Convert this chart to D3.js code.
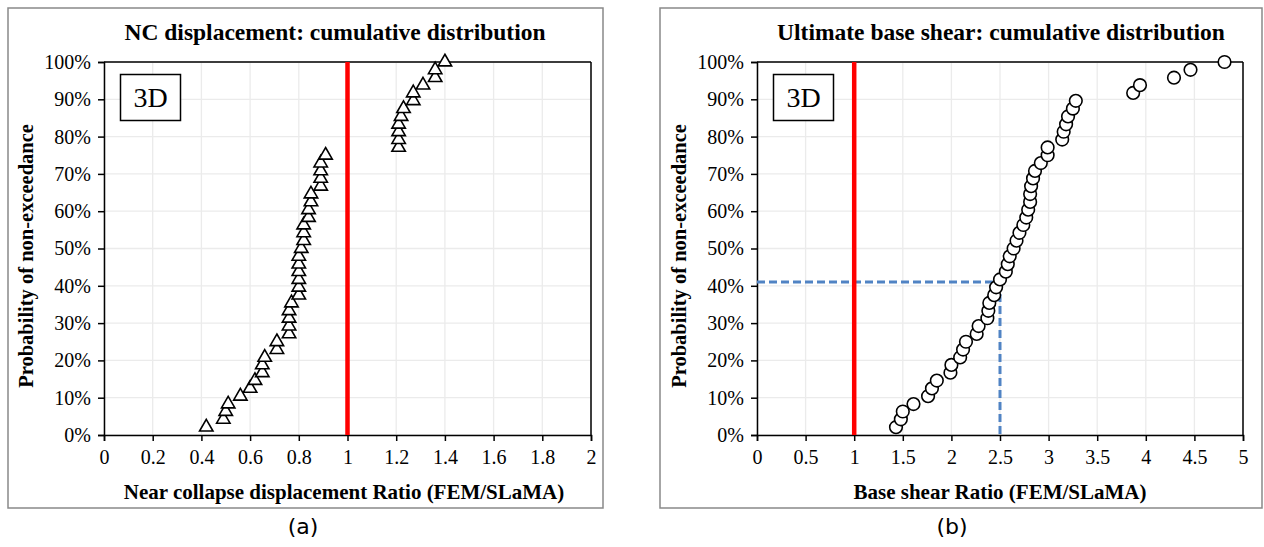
<!DOCTYPE html>
<html><head><meta charset="utf-8">
<script src="https://cdn.jsdelivr.net/npm/d3@7"></script>
<style>html,body{margin:0;padding:0;background:#fff;}svg{display:block;}</style>
</head><body>
<script>
// ---- data ----
const cumProb = [2.1,4.2,6.3,8.3,10.4,12.5,14.6,16.7,18.8,20.8,22.9,25.0,27.1,29.2,31.3,33.3,35.4,37.5,39.6,41.7,43.8,45.8,47.9,50.0,52.1,54.2,56.3,58.3,60.4,62.5,64.6,66.7,68.8,70.8,72.9,75.0,77.1,79.2,81.3,83.3,85.4,87.5,89.6,91.7,93.8,95.8,97.9,100.0];
const ncRatio = [0.42,0.49,0.50,0.51,0.56,0.60,0.62,0.65,0.65,0.66,0.71,0.71,0.76,0.76,0.76,0.76,0.77,0.80,0.80,0.80,0.80,0.80,0.80,0.81,0.82,0.82,0.82,0.84,0.84,0.85,0.85,0.89,0.89,0.89,0.89,0.91,1.21,1.21,1.21,1.21,1.22,1.23,1.27,1.27,1.31,1.36,1.36,1.40];
const bsRatio = [1.43,1.48,1.50,1.61,1.76,1.80,1.85,1.99,2.00,2.09,2.12,2.15,2.26,2.28,2.37,2.38,2.39,2.44,2.46,2.50,2.56,2.58,2.60,2.64,2.67,2.70,2.74,2.77,2.79,2.81,2.81,2.82,2.84,2.86,2.92,2.99,2.99,3.14,3.155,3.18,3.20,3.25,3.28,3.87,3.94,4.29,4.46,4.81];
const probTicks = [0,10,20,30,40,50,60,70,80,90,100];
const ncTicks = [0,0.2,0.4,0.6,0.8,1,1.2,1.4,1.6,1.8,2];
const bsTicks = [0,0.5,1,1.5,2,2.5,3,3.5,4,4.5,5];
const ncRef = 1;
const bsRef = 1;
const bsMedianGuide = {ratio: 2.5, prob: 41};
const titles = ["NC displacement: cumulative distribution", "Ultimate base shear: cumulative distribution"];
const xTitles = ["Near collapse displacement Ratio (FEM/SLaMA)", "Base shear Ratio (FEM/SLaMA)"];
const yTitle = "Probability of non-exceedance";
const panelLabels = ["(a)", "(b)"];
const boxLabel = "3D";

// ---- drawing ----
const W = 1264, H = 547;
const svg = d3.select("body").append("svg").attr("width", W).attr("height", H);
const serif = "'Liberation Serif','Times New Roman',serif";

function panel(cfg) {
  const g = svg.append("g");
  // frame
  g.append("rect").attr("x", cfg.frame[0]).attr("y", cfg.frame[1])
    .attr("width", cfg.frame[2]).attr("height", cfg.frame[3])
    .attr("fill", "#fff").attr("stroke", "#898989").attr("stroke-width", 1.5);
  const x = d3.scaleLinear().domain(cfg.xDomain).range([cfg.left, cfg.right]);
  const y = d3.scaleLinear().domain([0, 100]).range([435, 62]);
  // gridlines
  g.append("g").selectAll("line").data(cfg.xTicks).join("line")
    .attr("x1", d => x(d)).attr("x2", d => x(d)).attr("y1", y(0)).attr("y2", y(100))
    .attr("stroke", "#ebebeb").attr("stroke-width", 1.3);
  g.append("g").selectAll("line").data(probTicks).join("line")
    .attr("x1", x.range()[0]).attr("x2", x.range()[1]).attr("y1", d => y(d)).attr("y2", d => y(d))
    .attr("stroke", "#ebebeb").attr("stroke-width", 1.3);
  // box top/right
  g.append("line").attr("x1", cfg.left).attr("x2", cfg.right).attr("y1", y(100)).attr("y2", y(100))
    .attr("stroke", "#000").attr("stroke-width", 1.5);
  g.append("line").attr("x1", cfg.right).attr("x2", cfg.right).attr("y1", y(0)).attr("y2", y(100))
    .attr("stroke", "#000").attr("stroke-width", 1.5);
  // axes
  const xAxis = g.append("g").attr("transform", `translate(0,${y(0)})`)
    .call(d3.axisBottom(x).tickValues(cfg.xTicks).tickSize(6).tickPadding(9).tickFormat(d => String(d)));
  const yAxis = g.append("g").attr("transform", `translate(${cfg.left},0)`)
    .call(d3.axisLeft(y).tickValues(probTicks).tickSize(6).tickPadding(7).tickFormat(d => d + "%"));
  [xAxis, yAxis].forEach(a => {
    a.select(".domain").attr("stroke", "#000").attr("stroke-width", 1.5);
    a.selectAll(".tick line").attr("stroke", "#000").attr("stroke-width", 1.5);
    a.selectAll("text").attr("font-family", serif).attr("font-size", 20).attr("fill", "#000");
  });
  // guide lines (dashed)
  if (cfg.guide) {
    g.append("path")
      .attr("d", `M${x(0)},${y(cfg.guide.prob)}H${x(cfg.guide.ratio)}`)
      .attr("stroke", "#5083c4").attr("stroke-width", 3).attr("stroke-dasharray", "8,4").attr("fill", "none");
    g.append("path")
      .attr("d", `M${x(cfg.guide.ratio)},${y(cfg.guide.prob)}V${y(0)}`)
      .attr("stroke", "#5083c4").attr("stroke-width", 3).attr("stroke-dasharray", "8,4").attr("fill", "none");
  }
  // red reference line
  g.append("line").attr("x1", x(cfg.ref)).attr("x2", x(cfg.ref)).attr("y1", y(0)).attr("y2", y(100))
    .attr("stroke", "#ff0000").attr("stroke-width", 4.5);
  // markers
  const pts = cfg.values.map((v, i) => ({v, p: cumProb[i]}));
  if (cfg.marker === "triangle") {
    const sym = d3.symbol().type(d3.symbolTriangle).size(78);
    g.append("g").selectAll("path").data(pts).join("path")
      .attr("d", sym).attr("transform", d => `translate(${x(d.v)},${y(d.p)})`)
      .attr("fill", "#fff").attr("stroke", "#000").attr("stroke-width", 1.6);
  } else {
    g.append("g").selectAll("circle").data(pts).join("circle")
      .attr("cx", d => x(d.v)).attr("cy", d => y(d.p)).attr("r", 6.3)
      .attr("fill", "#fff").attr("stroke", "#000").attr("stroke-width", 1.6);
  }
  // 3D box
  g.append("rect").attr("x", cfg.left + 16.5).attr("y", 74.5).attr("width", 60).attr("height", 46)
    .attr("fill", "#fff").attr("stroke", "#000").attr("stroke-width", 1.5);
  g.append("text").attr("x", cfg.left + 46.5).attr("y", 107).attr("text-anchor", "middle")
    .attr("font-family", serif).attr("font-size", 28).text(boxLabel);
  // titles
  g.append("text").attr("x", cfg.titleX).attr("y", 40).attr("text-anchor", "middle")
    .attr("font-family", serif).attr("font-weight", "bold").attr("font-size", 23.5).text(cfg.title);
  g.append("text").attr("x", cfg.xTitleX).attr("y", 499).attr("text-anchor", "middle")
    .attr("font-family", serif).attr("font-weight", "bold").attr("font-size", 21).text(cfg.xTitle);
  g.append("text").attr("transform", `translate(${cfg.yTitleX},${y(48)}) rotate(-90)`).attr("text-anchor", "middle")
    .attr("font-family", serif).attr("font-weight", "bold").attr("font-size", 20.5).text(yTitle);
  g.append("text").attr("x", cfg.panelX).attr("y", 534).attr("text-anchor", "middle")
    .attr("font-family", "'DejaVu Sans',Verdana,sans-serif").attr("font-size", 22).text(cfg.panel);
}

panel({frame: [8, 8, 595, 500], left: 104, right: 591, xDomain: [0, 2], xTicks: ncTicks,
  values: ncRatio, marker: "triangle", ref: ncRef, guide: null,
  title: titles[0], titleX: 335, xTitle: xTitles[0], xTitleX: 344, yTitleX: 33, panel: panelLabels[0], panelX: 303});
panel({frame: [660, 8, 602, 500], left: 757, right: 1243, xDomain: [0, 5], xTicks: bsTicks,
  values: bsRatio, marker: "circle", ref: bsRef, guide: bsMedianGuide,
  title: titles[1], titleX: 1001, xTitle: xTitles[1], xTitleX: 1000, yTitleX: 686, panel: panelLabels[1], panelX: 952});
</script>
</body></html>
